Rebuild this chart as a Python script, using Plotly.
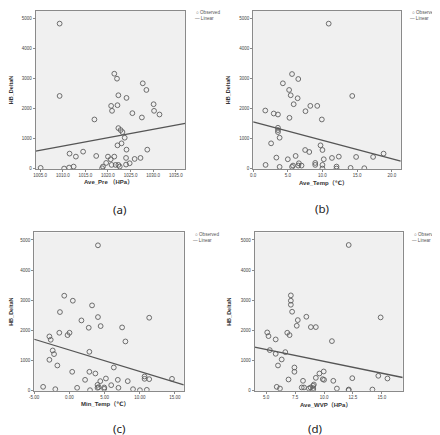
import plotly.graph_objects as go

# ---------------- data ----------------
# (a) Ave_Pre (HPa) vs HB_DeltaN
pre_x = [1009.3, 1009.3, 1005.1, 1010.3, 1011.4, 1012.4, 1011.5, 1012.9, 1014.5, 1017.0,
         1017.4, 1018.7, 1018.9, 1019.6, 1020.0, 1020.6, 1020.8, 1021.4, 1021.7, 1021.4,
         1022.0, 1020.7, 1020.9, 1022.1, 1022.3, 1024.1, 1022.3, 1022.8, 1023.2, 1023.7,
         1023.0, 1022.1, 1024.1, 1024.0, 1024.0, 1024.8, 1022.6, 1022.3, 1025.4, 1025.9,
         1027.2, 1027.7, 1028.5, 1027.5, 1028.7, 1030.1, 1030.2, 1031.4]
pre_y = [4830, 2425, 33, 11, 44, 77, 507, 408, 573, 1643,
         430, 22, 77, 198, 408, 320, 132, 408, 132, 3164,
         2999, 2095, 1930, 2117, 2448, 2360, 1356, 1290, 1224, 1036,
         849, 783, 639, 364, 143, 187, 77, 132, 1852, 331,
         364, 2845, 2624, 1709, 639, 2150, 1930, 1808]

# (b) Ave_Temp (C) vs HB_DeltaN
avet_x = [10.9, 14.3, 1.75, 2.97, 3.58, 5.61, 6.51, 4.29, 5.19, 5.42,
          6.42, 5.85, 8.25, 9.25, 7.55, 5.24, 9.91, 3.58, 3.58, 3.58,
          3.82, 2.59, 9.72, 7.5, 10.0, 8.1, 6.13, 3.35, 12.36, 11.37,
          14.86, 17.31, 18.82, 5.0, 10.19, 1.79, 3.82, 5.61, 5.75, 6.6,
          6.51, 6.98, 8.96, 8.96, 10.0, 10.0, 12.03, 12.03, 14.06, 16.04]
avet_y = [4829, 2425, 1940, 1841, 1808, 3153, 2988, 2845, 2624, 2448,
          2348, 2150, 2095, 2095, 1918, 1698, 1643, 1367, 1290, 1224,
          1036, 849, 783, 628, 628, 562, 430, 375, 408, 364,
          397, 397, 507, 320, 320, 132, 66, 66, 110, 187,
          110, 110, 198, 132, 132, 11, 77, 11, 33, 22]

# (c) Min_Temp (C) vs HB_DeltaN
mint_x = [4.06, -0.73, 0.49, 3.22, -1.34, 1.71, 4.06, 11.34, 4.44, 2.75,
          7.49, -1.43, 0.02, -0.26, -2.84, -2.65, 7.96, -2.37, -2.18, 2.84,
          -2.84, -1.71, 0.40, 2.84, 3.69, 6.31, 2.23, 4.39, 5.19, 6.88,
          8.29, 10.68, 10.68, 11.34, 14.58, -3.73, -2.0, 1.10, 2.93, 4.0,
          4.0, 4.95, 4.95, 5.94, 6.97, 9.04, 10.02, 11.0, 4.15]
mint_y = [4823, 3153, 2987, 2832, 2611, 2334, 2445, 2423, 2146, 2091,
          2102, 1925, 1925, 1847, 1803, 1692, 1637, 1338, 1217, 1294,
          1029, 841, 631, 631, 575, 774, 365, 321, 409, 365,
          321, 476, 398, 387, 398, 133, 55, 100, 22, 199,
          100, 111, 66, 188, 100, 55, 22, 33, 122]

# (d) Ave_WVP (HPa) vs HB_DeltaN
wvp_x = [12.13, 14.89, 7.13, 7.13, 7.13, 7.24, 7.73, 8.47, 7.64, 8.86,
         9.29, 5.09, 5.20, 6.82, 7.02, 5.82, 10.68, 5.31, 5.82, 6.65,
         6.34, 6.02, 7.44, 7.44, 9.97, 9.60, 9.29, 9.89, 10.0, 6.93,
         8.18, 10.80, 12.44, 14.69, 15.48, 5.91, 6.19, 8.07, 8.27, 8.69,
         8.84, 9.06, 9.12, 9.06, 11.11, 12.13, 12.13, 14.18, 9.06]
wvp_y = [4834, 2434, 3164, 2987, 2854, 2622, 2345, 2456, 2157, 2113,
         2113, 1936, 1814, 1925, 1847, 1704, 1648, 1350, 1228, 1283,
         1040, 841, 774, 631, 642, 575, 431, 387, 365, 376,
         332, 332, 420, 498, 409, 133, 77, 111, 111, 77,
         111, 166, 210, 88, 77, 44, 22, 44, 33]

# linear fits (intercept, slope)
fit_pre = (-27399.3, 27.88)
fit_avet = (1560.0, -61.27)
fit_mint = (1354.7, -71.06)
fit_wvp = (1763.7, -78.67)

# tick labels
y_ticks = [0, 1000, 2000, 3000, 4000, 5000]
y_ticktext = ["0", "1000", "2000", "3000", "4000", "5000"]
pre_ticks = [1005, 1010, 1015, 1020, 1025, 1030, 1035]
pre_ticktext = ["1005.0", "1010.0", "1015.0", "1020.0", "1025.0", "1030.0", "1035.0"]
avet_ticks = [0, 5, 10, 15, 20]
avet_ticktext = ["0.0", "5.0", "10.0", "15.0", "20.0"]
mint_ticks = [-5, 0, 5, 10, 15]
mint_ticktext = ["-5.00", "0.00", "5.00", "10.00", "15.00"]
wvp_ticks = [5, 7.5, 10, 12.5, 15]
wvp_ticktext = ["5.0", "7.5", "10.0", "12.5", "15.0"]

x_titles = ["Ave_Pre （HPa）", "Ave_Temp（℃）", "Min_Temp（℃）", "Ave_WVP（HPa）"]
y_title = "HB_DeltaN"
panel_labels = ["(a)", "(b)", "(c)", "(d)"]
legend_names = ["Observed", "Linear"]

# ---------------- layout constants ----------------
W, H = 440, 435
FONT = "Liberation Sans, DejaVu Sans, Noto Sans CJK SC, sans-serif"
panels = [
    dict(x=pre_x, y=pre_y, fit=fit_pre, xr=[1004.0, 1037.1], tv=pre_ticks, tt=pre_ticktext,
         px=(21, 173), py=(3, 162), tx=(95, 175.5)),
    dict(x=avet_x, y=avet_y, fit=fit_avet, xr=[0.0, 21.3], tv=avet_ticks, tt=avet_ticktext,
         px=(242, 392), py=(3, 162), tx=(313, 176)),
    dict(x=mint_x, y=mint_y, fit=fit_mint, xr=[-5.0, 16.25], tv=mint_ticks, tt=mint_ticktext,
         px=(19.5, 171.5), py=(226, 385.5), tx=(92, 398.5)),
    dict(x=wvp_x, y=wvp_y, fit=fit_wvp, xr=[4.0, 16.8], tv=wvp_ticks, tt=wvp_ticktext,
         px=(243.5, 394), py=(226, 385.5), tx=(316, 400)),
]
y_range = [0, 5250]

fig = go.Figure()
layout = dict(width=W, height=H, margin=dict(l=0, r=0, t=0, b=0),
              paper_bgcolor="white", plot_bgcolor="#f0f0f0", showlegend=False,
              font=dict(family=FONT, color="#333333"))
annotations = []

for i, p in enumerate(panels):
    n = "" if i == 0 else str(i + 1)
    xa, ya = "x" + n, "y" + n
    b0, b1 = p["fit"]
    fx = p["xr"]
    fy = [b0 + b1 * v for v in fx]
    fig.add_trace(go.Scatter(x=p["x"], y=p["y"], mode="markers", name=legend_names[0],
                             xaxis=xa, yaxis=ya,
                             marker=dict(symbol="circle-open", size=4.8,
                                         color="#5f5f5f", line=dict(width=0.9))))
    fig.add_trace(go.Scatter(x=fx, y=fy, mode="lines", name=legend_names[1],
                             xaxis=xa, yaxis=ya,
                             line=dict(color="#555555", width=1.3)))
    axis_common = dict(showline=True, mirror=True, linecolor="#8a8a8a", linewidth=1,
                       showgrid=False, zeroline=False, ticks="outside", ticklen=2,
                       tickcolor="#8a8a8a", tickfont=dict(size=4.5, color="#444444"))
    layout["xaxis" + n] = dict(axis_common, domain=[p["px"][0] / W, p["px"][1] / W],
                               range=p["xr"], tickvals=p["tv"], ticktext=p["tt"],
                               anchor=ya)
    layout["yaxis" + n] = dict(axis_common, domain=[1 - p["py"][1] / H, 1 - p["py"][0] / H],
                               range=y_range, tickvals=y_ticks, ticktext=y_ticktext,
                               anchor=xa,
                               title=dict(text="<b>" + y_title + "</b>",
                                          font=dict(size=5.5, color="#333333"), standoff=8))
    # x-axis title placed under the tick labels
    annotations.append(dict(xref="paper", yref="paper", x=p["tx"][0] / W, y=1 - p["tx"][1] / H,
                            xanchor="center", yanchor="middle", showarrow=False, borderpad=0,
                            text="<b>" + x_titles[i] + "</b>",
                            font=dict(size=6, color="#333333", family=FONT)))
    # legend (Observed / Linear) placed to the right of each panel
    lx = (p["px"][1] + 10) / W
    ly = 1 - (p["py"][0] + 2) / H
    annotations.append(dict(xref="paper", yref="paper", x=lx, y=ly, xanchor="left", yanchor="middle",
                            text="○ " + legend_names[0], showarrow=False, borderpad=0,
                            font=dict(size=4.6, color="#555555", family=FONT)))
    annotations.append(dict(xref="paper", yref="paper", x=lx - 0.003, y=ly - 6 / H, xanchor="left",
                            yanchor="middle", text="— " + legend_names[1], showarrow=False,
                            borderpad=0, font=dict(size=4.6, color="#555555", family=FONT)))

# panel labels
label_pos = [(106, 203), (311.5, 202), (105.5, 423), (305, 423)]
for lab, (x, y) in zip(panel_labels, label_pos):
    annotations.append(dict(xref="paper", yref="paper", x=x / W, y=1 - y / H,
                            xanchor="center", yanchor="middle", text=lab, showarrow=False,
                            borderpad=0,
                            font=dict(size=11.5, family="Noto Sans, Open Sans, sans-serif",
                                      color="#222222")))

layout["annotations"] = annotations
fig.update_layout(**layout)
fig.write_html("out.html")
